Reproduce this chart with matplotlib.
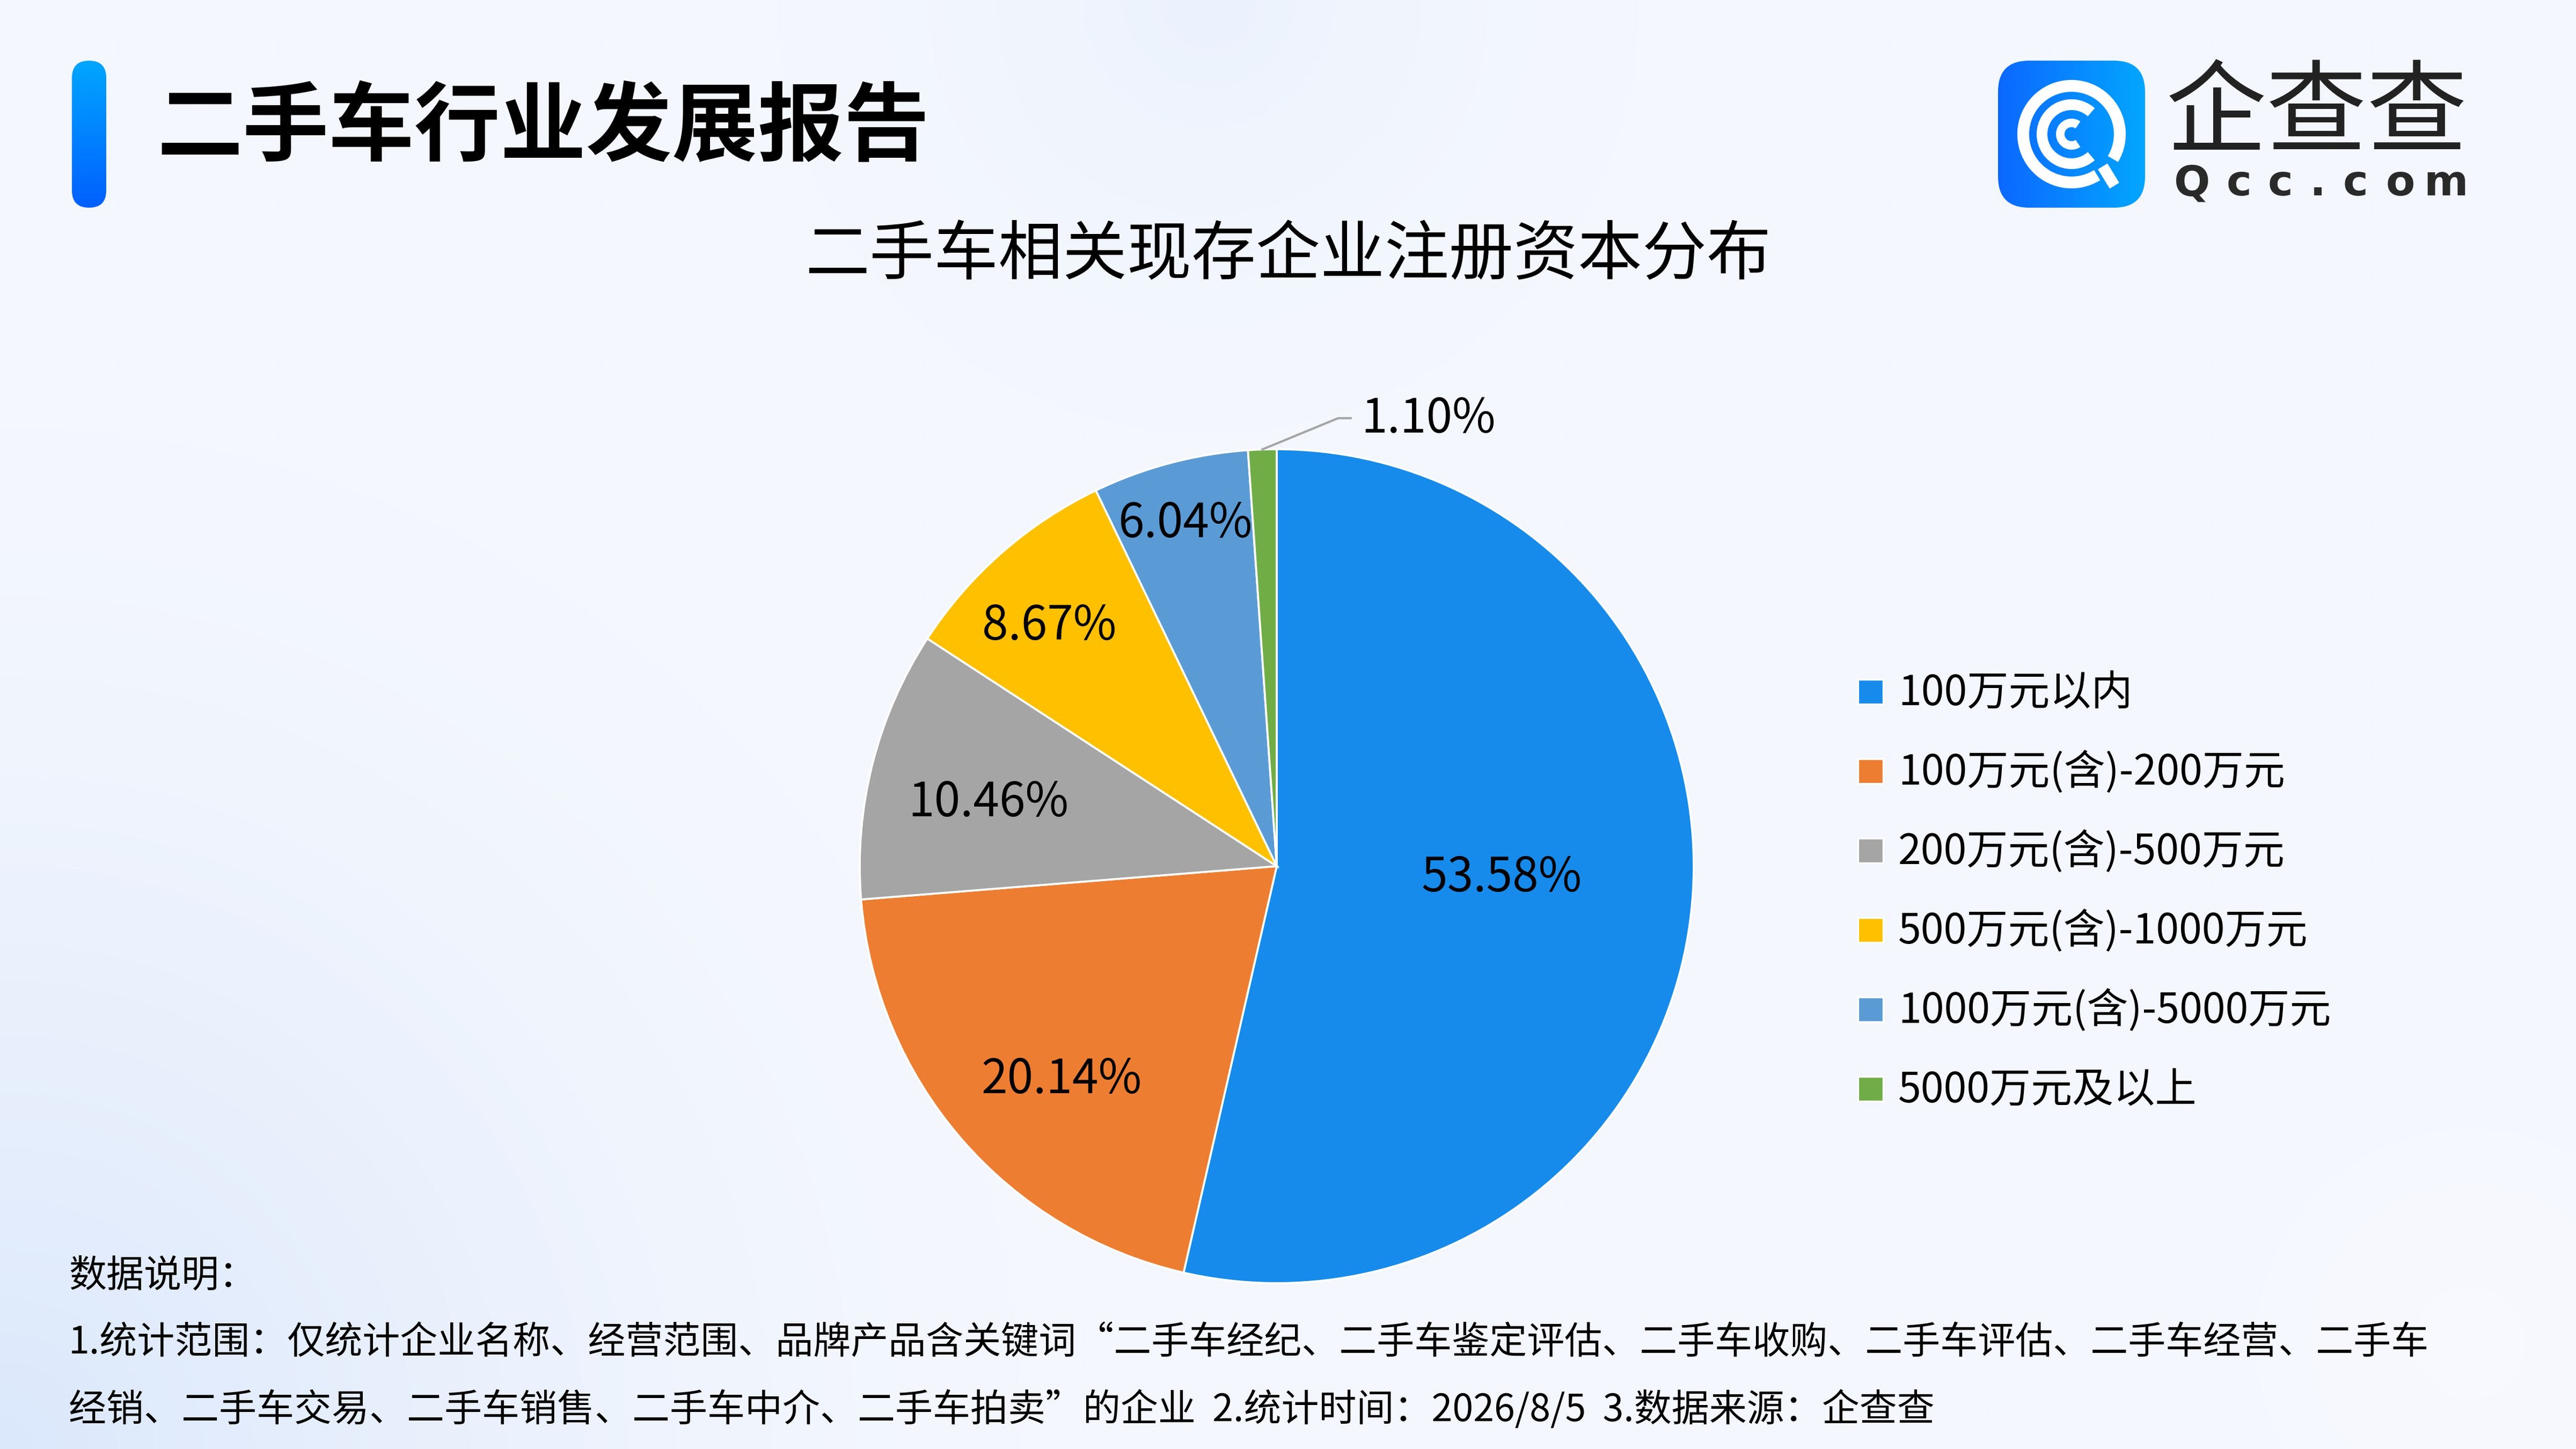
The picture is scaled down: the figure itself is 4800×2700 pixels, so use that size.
import numpy as np
import matplotlib
matplotlib.use('Agg')
import matplotlib.pyplot as plt
from matplotlib.patches import FancyBboxPatch, Rectangle, Arc

plt.rcParams['font.family'] = ['Noto Sans CJK SC', 'DejaVu Sans']

# ---- data ----
categories = ['100万元以内', '100万元(含)-200万元', '200万元(含)-500万元',
              '500万元(含)-1000万元', '1000万元(含)-5000万元', '5000万元及以上']
shares = [53.58, 20.14, 10.46, 8.67, 6.04, 1.10]
colors = ['#168BEB', '#ED7D31', '#A5A5A5', '#FFC000', '#5B9BD5', '#70AD47']

report_title = '二手车行业发展报告'
chart_title = '二手车相关现存企业注册资本分布'
note_head = '数据说明：'
note_lines = [
    '1.统计范围：仅统计企业名称、经营范围、品牌产品含关键词“二手车经纪、二手车鉴定评估、二手车收购、二手车评估、二手车经营、二手车',
    '经销、二手车交易、二手车销售、二手车中介、二手车拍卖”的企业  2.统计时间：2026/8/5  3.数据来源：企查查',
]
logo_cn = '企查查'
logo_en = 'Qcc.com'

W, H = 4800, 2700
fig = plt.figure(figsize=(16, 9), dpi=300)

# background layer in pixel coords (y down)
bg = fig.add_axes([0, 0, 1, 1])
bg.set_xlim(0, W)
bg.set_ylim(H, 0)
bg.axis('off')

yy, xx = np.mgrid[0:H:4, 0:W:4].astype(float)
img = np.ones(xx.shape + (3,)) * np.array([244, 247, 254]) / 255


def blob(cx, cy, r, col, k):
    global img
    d = np.hypot(xx - cx, yy - cy) / r
    w = k * np.clip(1 - d, 0, 1) ** 1.5
    img = img * (1 - w[..., None]) + np.array(col)[None, None, :] / 255 * w[..., None]


blob(0, 2700, 1900, (216, 230, 251), 0.9)
blob(2250, 0, 800, (232, 240, 253), 0.7)
blob(4600, 2500, 900, (250, 251, 255), 0.6)
bg.imshow(img, extent=[0, W, H, 0], aspect='auto', interpolation='bilinear', zorder=0)

# title bar
bar = FancyBboxPatch((134, 113), 64, 274, boxstyle='round,pad=0,rounding_size=32',
                     facecolor='none', edgecolor='none', zorder=2)
bg.add_patch(bar)
grad_v = np.linspace(0, 1, 100)[:, None, None]
top_c = np.array([0, 166, 255]) / 255
bot_c = np.array([0, 96, 255]) / 255
bar_img = top_c * (1 - grad_v) + bot_c * grad_v
im = bg.imshow(bar_img, extent=[134, 198, 387, 113], aspect='auto', zorder=2)
im.set_clip_path(bar)

bg.text(292, 240, report_title, fontsize=38.4, fontweight='bold', va='center', ha='left',
        color='#000000', zorder=3)
bg.text(2400, 478, chart_title, fontsize=28.8, va='center', ha='center', color='#000000', zorder=3)

# logo
cx, cy = 3860, 250
box = FancyBboxPatch((3723, 113), 274, 274, boxstyle='round,pad=0,rounding_size=58',
                     facecolor='none', edgecolor='none', zorder=2)
bg.add_patch(box)
grad_h = np.linspace(0, 1, 100)[None, :, None]
logo_img = (np.array([12, 104, 255]) / 255) * (1 - grad_h) + (np.array([3, 166, 255]) / 255) * grad_h
im2 = bg.imshow(logo_img, extent=[3723, 3997, 387, 113], aspect='auto', zorder=2)
im2.set_clip_path(box)
bg.add_patch(Arc((cx, cy), 180, 180, theta1=58, theta2=31, lw=5.3, color='white', zorder=3))
bg.add_patch(Arc((cx, cy), 110, 110, theta1=48, theta2=-48, lw=4.8, color='white', zorder=3))
bg.add_patch(Arc((cx, cy), 42, 42, theta1=55, theta2=-55, lw=3.8, color='white', zorder=3))
bg.plot([cx + 58, cx + 80], [cy + 60, cy + 96], color='white', lw=5, solid_capstyle='butt', zorder=3)

bg.text(4036, 214, logo_cn, fontsize=45, va='center', ha='left', color='#222222', zorder=3)
en_x = [4085, 4172, 4249, 4319, 4389, 4473, 4558]
for ch, x in zip(logo_en, en_x):
    bg.text(x, 342, ch, fontsize=19, fontweight='bold', va='center', ha='center',
            color='#2a2a2a', family='DejaVu Sans', zorder=3)

# legend
leg_y0, leg_dy = 1289, 148
for i, (lab, col) in enumerate(zip(categories, colors)):
    y = leg_y0 + i * leg_dy
    bg.add_patch(Rectangle((3462, y - 23), 47, 46, facecolor=col, edgecolor='white',
                           lw=0.8, zorder=3))
    bg.text(3537, y + 4, lab, fontsize=18.5, va='center', ha='left', color='#000000', zorder=3)

# notes
bg.text(128, 2378, note_head, fontsize=16.8, va='center', ha='left', color='#000000', zorder=3)
for i, line in enumerate(note_lines):
    bg.text(128, 2503 + i * 125, line, fontsize=16.8, va='center', ha='left',
            color='#000000', zorder=3)

# pie
R = 777
ax = fig.add_axes([(2379 - R) / W, (H - 1614 - R) / H, 2 * R / W, 2 * R / H])
wedges, _ = ax.pie(shares, colors=colors, startangle=90, counterclock=False, radius=1,
                   wedgeprops=dict(edgecolor='white', linewidth=0.9))
ax.set_xlim(-1, 1)
ax.set_ylim(-1, 1)
ax.axis('off')

# label radius (in pie radii) and angular nudge (deg) for the inner labels
label_r = [0.54, 0.72, 0.71, 0.80, 0.86]
label_da = [4.5, 3.4, 1.1, 1.7, 0.0]
for i, w in enumerate(wedges):
    a = np.deg2rad((w.theta1 + w.theta2) / 2)
    txt = f'{shares[i]:.2f}%'
    if i < len(label_r):
        b = a + np.deg2rad(label_da[i])
        ax.text(label_r[i] * np.cos(b), label_r[i] * np.sin(b) - 0.01, txt, fontsize=21,
                ha='center', va='center', color='#000000')
    else:
        sx, sy = np.cos(a), np.sin(a)
        ex, ey = sx + 0.182, sy + 0.075
        ax.plot([sx, ex, ex + 0.03], [sy, ey, ey], color='#A5A5A5', lw=1.0, clip_on=False)
        ax.text(ex + 0.055, ey - 0.002, txt, fontsize=21, ha='left', va='center', color='#000000')

fig.savefig('out.png', dpi=300)
